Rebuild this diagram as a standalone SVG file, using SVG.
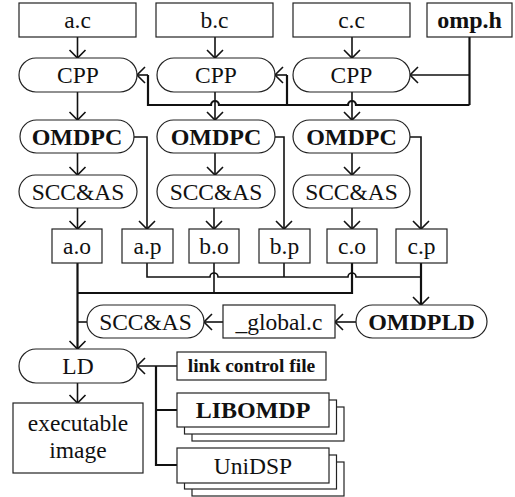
<svg xmlns="http://www.w3.org/2000/svg" width="515" height="497" viewBox="0 0 515 497">
<defs>
<style>
.n{fill:#fff;stroke:#222;stroke-width:1.2}
text{font-family:'Liberation Serif','Times New Roman',Times,'DejaVu Serif',serif;font-size:23.5px;fill:#111;text-anchor:middle}
.b{font-weight:bold;font-size:24px}
.c{fill:none;stroke:#111;stroke-width:1.6}
.w{stroke-width:2.2}
.a{marker-end:url(#ah)}
</style>
<marker id="ah" markerUnits="userSpaceOnUse" viewBox="-10 -10 20 20" refX="0" refY="0" markerWidth="20" markerHeight="20" orient="auto">
<path d="M-8,-8 L0,0 L-8,8" fill="none" stroke="#111" stroke-width="1.6"/>
</marker>
</defs>
<rect width="515" height="497" fill="#fff"/>

<g id="connectors">
<path class="c a" d="M77.5,37 V58"/>
<path class="c a" d="M215,37 V58"/>
<path class="c a" d="M352,37 V58"/>
<path class="c a" d="M77.5,92 V120"/>
<path class="c a" d="M215,92 V120"/>
<path class="c a" d="M352,92 V120"/>
<path class="c a" d="M77.5,153 V175"/>
<path class="c a" d="M215,153 V175"/>
<path class="c a" d="M352,153 V175"/>
<path class="c a" d="M77.5,208 V229"/>
<path class="c a" d="M214,208 V229"/>
<path class="c a" d="M352,208 V229"/>
<path class="c w" d="M469.5,37 V105"/>
<path class="c a" d="M469.5,75 H410"/>
<path class="c w" d="M469.5,105 H356 A4,4 0 0 0 348,105 H219 A4,4 0 0 0 211,105 H148 V75"/>
<path class="c a" d="M148,75 H137"/>
<path class="c w" d="M287,105 V75"/>
<path class="c a" d="M287,75 H275"/>
<path class="c a" d="M134,137 H147 V229"/>
<path class="c a" d="M275,137 H284 V229"/>
<path class="c a" d="M410,137 H421 V229"/>
<path class="c w a" d="M77.5,263 V349"/>
<path class="c w" d="M77.5,293 H352 V263"/>
<path class="c" d="M214,263 V293"/>
<path class="c" d="M147,263 V277 H210 A4,4 0 0 1 218,277 H348 A4,4 0 0 1 356,277 H421"/>
<path class="c" d="M284,263 V277"/>
<path class="c w a" d="M421,263 V305"/>
<path class="c a" d="M356,322 H335"/>
<path class="c a" d="M223,322 H204"/>
<path class="c" d="M87,322 H77.5"/>
<path class="c a" d="M77.5,383 V403"/>
<path class="c a" d="M177,366 H137"/>
<path class="c w" d="M156,366 V465 H177 M156,410 H177"/>
</g>

<g id="a_c"><rect class="n" x="19" y="3" width="117" height="34"/><text x="77.5" y="28">a.c</text></g>
<g id="b_c"><rect class="n" x="156" y="3" width="117" height="34"/><text x="214.5" y="28">b.c</text></g>
<g id="c_c"><rect class="n" x="293" y="3" width="117" height="34"/><text x="351.5" y="28">c.c</text></g>
<g id="omp_h"><rect class="n" x="427" y="3" width="85" height="34"/><text class="b" x="469.5" y="28">omp.h</text></g>

<g id="cpp_a"><rect class="n" x="19" y="58" width="118" height="34" rx="17"/><text x="78" y="83">CPP</text></g>
<g id="cpp_b"><rect class="n" x="157" y="58" width="118" height="34" rx="17"/><text x="216" y="83">CPP</text></g>
<g id="cpp_c"><rect class="n" x="293" y="58" width="117" height="34" rx="17"/><text x="351.5" y="83">CPP</text></g>

<g id="omdpc_a"><rect class="n" x="20" y="120" width="114" height="33" rx="16.5"/><text class="b" x="77" y="145">OMDPC</text></g>
<g id="omdpc_b"><rect class="n" x="157" y="120" width="118" height="33" rx="16.5"/><text class="b" x="216" y="145">OMDPC</text></g>
<g id="omdpc_c"><rect class="n" x="293" y="120" width="117" height="33" rx="16.5"/><text class="b" x="351.5" y="145">OMDPC</text></g>

<g id="scc_a"><rect class="n" x="19" y="175" width="118" height="33" rx="16.5"/><text x="78" y="200">SCC&amp;AS</text></g>
<g id="scc_b"><rect class="n" x="157" y="175" width="118" height="33" rx="16.5"/><text x="216" y="200">SCC&amp;AS</text></g>
<g id="scc_c"><rect class="n" x="293" y="175" width="117" height="33" rx="16.5"/><text x="351.5" y="200">SCC&amp;AS</text></g>

<g id="a_o"><rect class="n" x="52" y="229" width="50" height="34"/><text x="77" y="254">a.o</text></g>
<g id="a_p"><rect class="n" x="122" y="229" width="51" height="34"/><text x="147.5" y="254">a.p</text></g>
<g id="b_o"><rect class="n" x="189" y="229" width="50" height="34"/><text x="214" y="254">b.o</text></g>
<g id="b_p"><rect class="n" x="259" y="229" width="51" height="34"/><text x="284.5" y="254">b.p</text></g>
<g id="c_o"><rect class="n" x="327" y="229" width="50" height="34"/><text x="352" y="254">c.o</text></g>
<g id="c_p"><rect class="n" x="396" y="229" width="51" height="34"/><text x="421.5" y="254">c.p</text></g>

<g id="omdpld"><rect class="n" x="356" y="305" width="131" height="33" rx="16.5"/><text class="b" x="421.5" y="330">OMDPLD</text></g>
<g id="global_c"><rect class="n" x="223" y="305" width="112" height="33"/><text x="279" y="330">_global.c</text></g>
<g id="scc_g"><rect class="n" x="87" y="305" width="117" height="33" rx="16.5"/><text x="145.5" y="330">SCC&amp;AS</text></g>

<g id="ld"><rect class="n" x="19" y="349" width="118" height="34" rx="17"/><text x="78" y="374">LD</text></g>
<g id="exe"><rect class="n" x="13" y="403" width="130" height="70"/><text x="78" y="431">executable</text><text x="78" y="458">image</text></g>

<g id="link"><rect class="n" x="177" y="352" width="149" height="28"/><text class="b" x="251.5" y="372" style="font-size:19.5px">link control file</text></g>
<g id="libomdp"><rect class="n" x="192" y="407" width="152" height="34"/><rect class="n" x="184.5" y="400" width="152" height="34"/><rect class="n" x="177" y="393" width="152" height="34"/><text class="b" x="253" y="418">LIBOMDP</text></g>
<g id="unidsp"><rect class="n" x="192" y="462" width="152" height="34"/><rect class="n" x="184.5" y="455" width="152" height="34"/><rect class="n" x="177" y="448" width="152" height="35"/><text x="253" y="474">UniDSP</text></g>
</svg>
